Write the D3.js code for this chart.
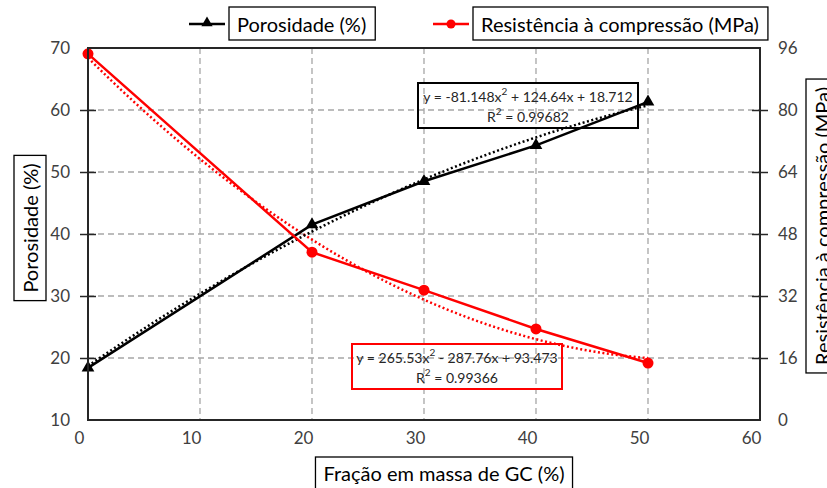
<!DOCTYPE html>
<html>
<head>
<meta charset="utf-8">
<script src="https://cdn.jsdelivr.net/npm/d3@7"></script>
<style>
  body { margin: 0; background: #fff; }
  text { font-family: Lato, "Open Sans", sans-serif; }
</style>
</head>
<body>
<div id="chart"></div>
<script>
// data
var fraction = [0, 20, 30, 40, 50];
var porosity = [18.4, 41.5, 48.5, 54.3, 61.3];
var strength = [94.5, 43.3, 33.5, 23.5, 14.7];

// trend lines as printed on the chart (x as a mass fraction 0..0.5)
var porosityFit = [-81.148, 124.64, 18.712];
var strengthFit = [265.53, -287.76, 93.473];

var xTicks = [0, 10, 20, 30, 40, 50, 60];
var leftTicks = [10, 20, 30, 40, 50, 60, 70];
var rightTicks = [0, 16, 32, 48, 64, 80, 96];

var width = 827,
    height = 488;
var plot = { left: 88, right: 760, top: 48, bottom: 420 };

var svg = d3.select("#chart")
  .append("svg")
    .attr("width", width)
    .attr("height", height);

var x = d3.scaleLinear().domain([0, 60]).range([plot.left, plot.right]);
var yLeft = d3.scaleLinear().domain([10, 70]).range([plot.bottom, plot.top]);
var yRight = d3.scaleLinear().domain([0, 96]).range([plot.bottom, plot.top]);

// grid
var grid = svg.append("g")
  .attr("stroke", "#a6a6a6")
  .attr("stroke-width", 1.3)
  .attr("stroke-dasharray", "6,4");
grid.selectAll(".gx")
  .data(xTicks.slice(1, -1))
  .enter().append("line")
    .attr("x1", function(d) { return x(d); })
    .attr("x2", function(d) { return x(d); })
    .attr("y1", plot.top)
    .attr("y2", plot.bottom);
grid.selectAll(".gy")
  .data(leftTicks.slice(1, -1))
  .enter().append("line")
    .attr("x1", plot.left)
    .attr("x2", plot.right)
    .attr("y1", function(d) { return yLeft(d); })
    .attr("y2", function(d) { return yLeft(d); });

// trend lines
function fitPoints(coef) {
  var pts = [];
  for (var i = 0; i <= 50; i++) {
    var f = i / 100;
    pts.push([f * 100, coef[0] * f * f + coef[1] * f + coef[2]]);
  }
  return pts;
}

function drawTrend(coef, yScale, color) {
  svg.append("path")
    .datum(fitPoints(coef))
    .attr("fill", "none")
    .attr("stroke", color)
    .attr("stroke-width", 2.5)
    .attr("stroke-dasharray", "2,2.5")
    .attr("d", d3.line()
      .x(function(d) { return x(d[0]); })
      .y(function(d) { return yScale(d[1]); }));
}
drawTrend(strengthFit, yRight, "#ff0000");
drawTrend(porosityFit, yLeft, "#000000");

// series
function drawSeries(values, yScale, color) {
  svg.append("path")
    .datum(values)
    .attr("fill", "none")
    .attr("stroke", color)
    .attr("stroke-width", 2.5)
    .attr("d", d3.line()
      .x(function(d, i) { return x(fraction[i]); })
      .y(function(d) { return yScale(d); }));
}
drawSeries(porosity, yLeft, "#000000");
drawSeries(strength, yRight, "#ff0000");

svg.selectAll(".tri")
  .data(porosity)
  .enter().append("path")
    .attr("d", d3.symbol().type(d3.symbolTriangle).size(70))
    .attr("transform", function(d, i) { return "translate(" + x(fraction[i]) + "," + yLeft(d) + ")"; })
    .attr("fill", "#000");

svg.selectAll(".dot")
  .data(strength)
  .enter().append("circle")
    .attr("cx", function(d, i) { return x(fraction[i]); })
    .attr("cy", function(d) { return yRight(d); })
    .attr("r", 5.5)
    .attr("fill", "#ff0000");

// frame and axes
svg.append("rect")
  .attr("x", plot.left)
  .attr("y", plot.top)
  .attr("width", plot.right - plot.left)
  .attr("height", plot.bottom - plot.top)
  .attr("fill", "none")
  .attr("stroke", "#262626")
  .attr("stroke-width", 2);

var leftAxis = svg.append("g")
  .attr("transform", "translate(" + plot.left + ",0)")
  .call(d3.axisLeft(yLeft).tickValues(leftTicks).tickSizeInner(8).tickSizeOuter(0).tickPadding(10));
leftAxis.selectAll(".tick line").attr("x2", 8).attr("x1", -8);

var rightAxis = svg.append("g")
  .attr("transform", "translate(" + plot.right + ",0)")
  .call(d3.axisRight(yRight).tickValues(rightTicks).tickSizeInner(8).tickSizeOuter(0).tickPadding(10));
rightAxis.selectAll(".tick line").attr("x1", -8).attr("x2", 8);

var bottomAxis = svg.append("g")
  .attr("transform", "translate(0," + plot.bottom + ")")
  .call(d3.axisBottom(x).tickValues(xTicks).tickSize(0).tickPadding(12));
bottomAxis.selectAll(".tick text").attr("dx", -9);

[leftAxis, rightAxis, bottomAxis].forEach(function(a) {
  a.select(".domain").remove();
  a.selectAll(".tick line").attr("stroke", "#262626").attr("stroke-width", 1.5);
  a.selectAll(".tick text")
    .attr("font-family", "Lato, sans-serif")
    .attr("font-size", 17)
    .attr("fill", "#404040");
});
leftAxis.selectAll(".tick").filter(function(d) { return d === 10 || d === 70; }).select("line").remove();
rightAxis.selectAll(".tick").filter(function(d) { return d === 0 || d === 96; }).select("line").remove();

// boxed titles
function boxedText(cx, cy, label, size, rotate, padX, padY, stroke) {
  var g = svg.append("g")
    .attr("transform", "translate(" + cx + "," + cy + ")" + (rotate ? " rotate(-90)" : ""));
  var t = g.append("text")
    .attr("text-anchor", "middle")
    .attr("dominant-baseline", "central")
    .attr("font-size", size)
    .attr("fill", "#000")
    .text(label);
  var w = t.node().getComputedTextLength();
  g.insert("rect", "text")
    .attr("x", -w / 2 - padX)
    .attr("y", -size / 2 - padY)
    .attr("width", w + padX * 2)
    .attr("height", size + padY * 2)
    .attr("fill", "#fff")
    .attr("stroke", stroke || "#000")
    .attr("stroke-width", 1.3);
  return g;
}

boxedText(30, 228, "Porosidade (%)", 20, true, 8, 6);
boxedText(822, 226, "Resistência à compressão (MPa)", 20, true, 8, 6);
boxedText(444, 473, "Fração em massa de GC (%)", 20, false, 8, 6);

// legend
var legend = [
  { label: "Porosidade (%)", color: "#000", x: 189, symbol: "tri" },
  { label: "Resistência à compressão (MPa)", color: "#ff0000", x: 433, symbol: "dot" }
];
legend.forEach(function(item) {
  svg.append("line")
    .attr("x1", item.x).attr("x2", item.x + 36)
    .attr("y1", 24).attr("y2", 24)
    .attr("stroke", item.color).attr("stroke-width", 2.5);
  if (item.symbol === "tri") {
    svg.append("path")
      .attr("d", d3.symbol().type(d3.symbolTriangle).size(55))
      .attr("transform", "translate(" + (item.x + 18) + ",23)")
      .attr("fill", item.color);
  } else {
    svg.append("circle")
      .attr("cx", item.x + 18).attr("cy", 24).attr("r", 4.5)
      .attr("fill", item.color);
  }
  var g = svg.append("g");
  var t = g.append("text")
    .attr("x", item.x + 48)
    .attr("y", 24)
    .attr("dominant-baseline", "central")
    .attr("font-size", 20)
    .text(item.label);
  var w = t.node().getComputedTextLength();
  g.insert("rect", "text")
    .attr("x", item.x + 40)
    .attr("y", 7)
    .attr("width", w + 17)
    .attr("height", 33)
    .attr("fill", "#fff")
    .attr("stroke", "#000")
    .attr("stroke-width", 1.3);
});

// equation labels
function equation(cx, cy, lines, stroke, boxW) {
  var g = svg.append("g").attr("transform", "translate(" + cx + "," + cy + ")");
  g.append("rect")
    .attr("x", -boxW / 2).attr("y", -22)
    .attr("width", boxW).attr("height", 45)
    .attr("fill", "none")
    .attr("stroke", stroke)
    .attr("stroke-width", 2);
  lines.forEach(function(l, i) {
    var t = g.append("text")
      .attr("text-anchor", "middle")
      .attr("y", -9 + i * 20)
      .attr("dominant-baseline", "central")
      .attr("font-size", 14)
      .attr("fill", "#262626");
    l.forEach(function(part) {
      var s = t.append("tspan").text(part.t);
      if (part.sup) s.attr("font-size", 10).attr("dy", -5);
      else if (part.after) s.attr("dy", 5);
    });
  });
}

equation(528, 105, [
  [{ t: "y = " + porosityFit[0] + "x" }, { t: "2", sup: true }, { t: " + " + porosityFit[1] + "x + " + porosityFit[2], after: true }],
  [{ t: "R" }, { t: "2", sup: true }, { t: " = 0.99682", after: true }]
], "#000", 220);

equation(457, 366, [
  [{ t: "y = " + strengthFit[0] + "x" }, { t: "2", sup: true }, { t: " - " + Math.abs(strengthFit[1]) + "x + " + strengthFit[2], after: true }],
  [{ t: "R" }, { t: "2", sup: true }, { t: " = 0.99366", after: true }]
], "#ff0000", 210);
</script>
</body>
</html>
